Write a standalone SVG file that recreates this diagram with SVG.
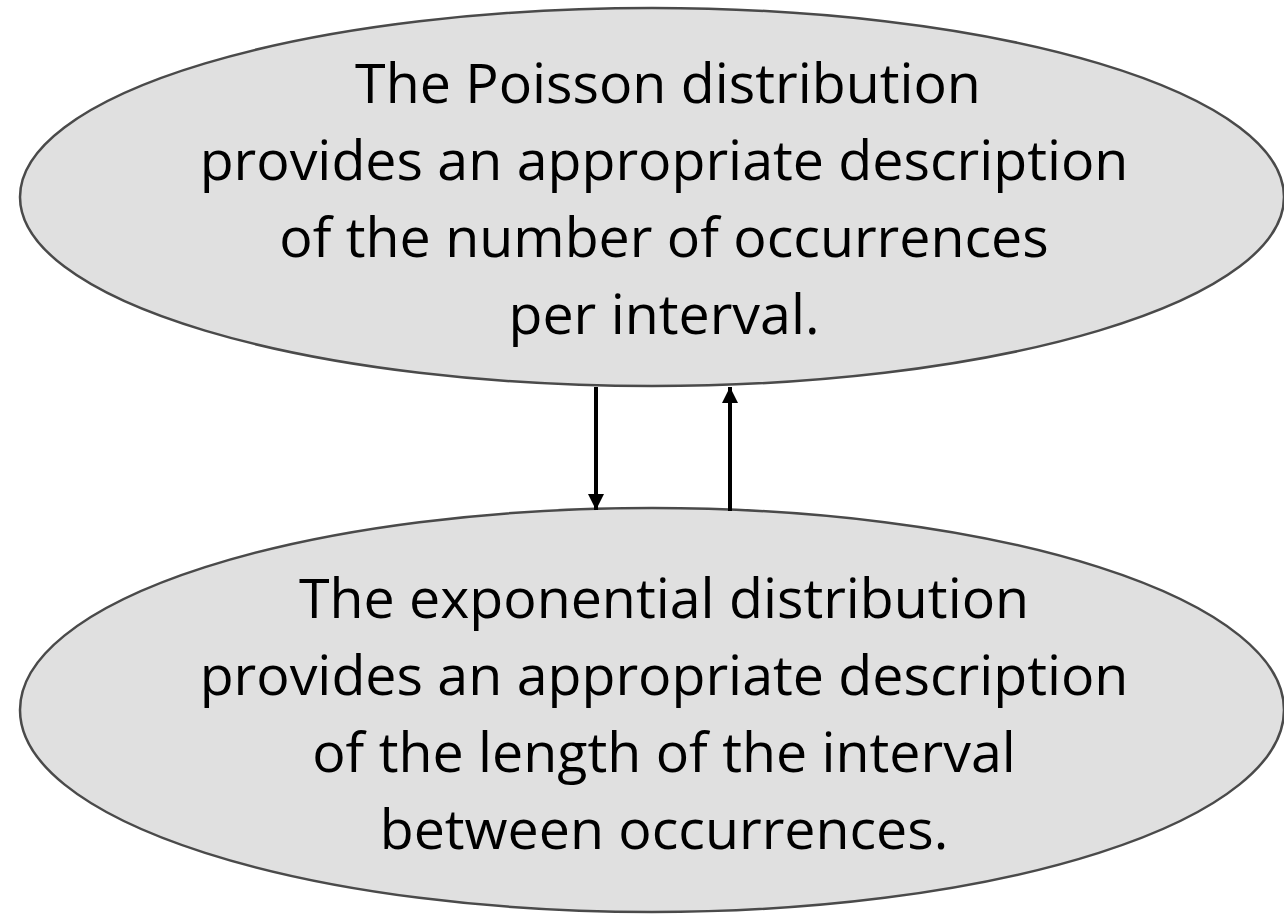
<svg xmlns="http://www.w3.org/2000/svg" width="1284" height="916" viewBox="0 0 1284 916">
<style>
.node{fill:#e0e0e0;stroke:#4a4a4a;stroke-width:2.5}
.lbl{font-family:"Open Sans","Liberation Sans",sans-serif;font-size:55.5px;fill:#000;text-anchor:middle}
.conn{stroke:#000;stroke-width:4;fill:none}
</style>
<defs>
<marker id="ah" viewBox="0 0 10 10" refX="10" refY="5" markerWidth="4" markerHeight="4" orient="auto" markerUnits="strokeWidth">
<path d="M0,0 L10,5 L0,10 z" fill="#000"/>
</marker>
</defs>
<rect width="1284" height="916" fill="#fff"/>
<g id="poisson">
<ellipse class="node" cx="652" cy="197" rx="632" ry="189"/>
<text class="lbl" x="668" y="103">The Poisson distribution</text>
<text class="lbl" x="664" y="180">provides an appropriate description</text>
<text class="lbl" x="664" y="257">of the number of occurrences</text>
<text class="lbl" x="664" y="334">per interval.</text>
</g>
<g id="exponential">
<ellipse class="node" cx="652" cy="710" rx="632" ry="202"/>
<text class="lbl" x="664" y="618">The exponential distribution</text>
<text class="lbl" x="664" y="695">provides an appropriate description</text>
<text class="lbl" x="664" y="772">of the length of the interval</text>
<text class="lbl" x="664" y="849">between occurrences.</text>
</g>
<g id="connectors">
<line class="conn" x1="596" y1="387" x2="596" y2="510" marker-end="url(#ah)"/>
<line class="conn" x1="730" y1="511" x2="730" y2="387" marker-end="url(#ah)"/>
</g>
</svg>
